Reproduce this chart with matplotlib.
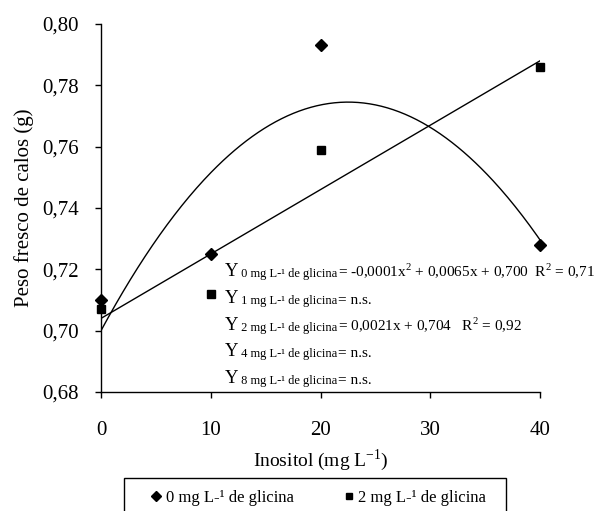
import numpy as np
import matplotlib
matplotlib.use("Agg")
import matplotlib.pyplot as plt
from matplotlib.lines import Line2D
from matplotlib.patches import Rectangle

plt.rcParams['font.family'] = ['Liberation Serif', 'DejaVu Serif']
plt.rcParams['mathtext.fontset'] = 'custom'
plt.rcParams['mathtext.rm'] = 'Liberation Serif'

# Data
inositol = [0, 10, 20, 40]
gly0 = [0.710, 0.725, 0.793, 0.728]
gly2 = [0.707, 0.712, 0.759, 0.786]
xticks = [0, 10, 20, 30, 40]
yticks = [0.68, 0.70, 0.72, 0.74, 0.76, 0.78, 0.80]
# Fitted curves (as drawn)
quad_coef = [-0.000147, 0.00662, 0.700]
lin_coef = [0.0021, 0.704]

SUP2 = r"$^{\mathregular{2}}$"
eq_subs = ["0 mg L-¹ de glicina", "1 mg L-¹ de glicina", "2 mg L-¹ de glicina",
           "4 mg L-¹ de glicina", "8 mg L-¹ de glicina"]
eq_rest = ["= -0,0001x" + SUP2 + " + 0,0065x + 0,700  R" + SUP2 + " = 0,71",
           "= n.s.",
           "= 0,0021x + 0,704   R" + SUP2 + " = 0,92",
           "= n.s.", "= n.s."]

W, H = 600, 511
fig = plt.figure(figsize=(6.0, 5.11), dpi=100)
ax = fig.add_axes([101/W, 1-392/H, 439/W, 368/H])

xs = np.linspace(0, 40, 300)
ax.plot(xs, np.polyval(quad_coef, xs), color='black', lw=1.0)
ax.plot(xs, np.polyval(lin_coef, xs), color='black', lw=1.0)
ax.plot(inositol, gly0, linestyle='none', marker='D', ms=6.5, color='black', clip_on=False)
ax.plot(inositol, gly2, linestyle='none', marker='s', ms=6, color='black', clip_on=False)

ax.set_xlim(0, 40)
ax.set_ylim(0.68, 0.80)
ax.set_xticks(xticks)
ax.set_yticks(yticks)
ax.set_yticklabels([f"{v:.2f}".replace('.', ',') for v in yticks])
ax.tick_params(direction='out', length=4, width=1, labelsize=15, colors='black')
ax.tick_params(axis='x', pad=17)
ax.tick_params(axis='y', pad=12)
for s in ['top', 'right']:
    ax.spines[s].set_visible(False)
for s in ['left', 'bottom']:
    ax.spines[s].set_linewidth(1)
ax.set_xlabel("Inositol (mg L$^{\\mathregular{-1}}$)", fontsize=14, labelpad=5)
ax.set_ylabel("Peso fresco de calos (g)", fontsize=15, labelpad=6)

# Equations
for i, (sub, rest) in enumerate(zip(eq_subs, eq_rest)):
    yb = 276 + 26.75 * i
    t1 = fig.text(225/W, 1 - yb/H, "Y", fontsize=13.5, va='baseline', ha='left')
    t2 = ax.annotate(" " + sub, xy=(1, 0), xycoords=t1, va='bottom', ha='left', fontsize=9,
                     annotation_clip=False)
    t3 = ax.annotate(rest, xy=(1, 0), xycoords=t2, va='bottom', ha='left', fontsize=11,
                     annotation_clip=False)

# Legend (frame drawn separately; it runs past the bottom edge like the reference)
fig.add_artist(Rectangle((124/W, -0.05), 382/W, 0.05 + (H-478)/H, transform=fig.transFigure,
                         facecolor='none', edgecolor='black', linewidth=1, clip_on=False))
handles = [Line2D([], [], marker='D', ms=5, color='black', linestyle='none'),
           Line2D([], [], marker='s', ms=5, color='black', linestyle='none')]
labels = ["0 mg L-¹ de glicina", "2 mg L-¹ de glicina"]
leg = fig.legend(handles, labels, loc='center', ncol=2,
                 bbox_to_anchor=(318.5/W, 1-498/H), borderaxespad=0.0,
                 fontsize=12, frameon=False, borderpad=0.0,
                 handlelength=0.6, handletextpad=0.3, columnspacing=3.0)

fig.savefig("out.png", dpi=100)
